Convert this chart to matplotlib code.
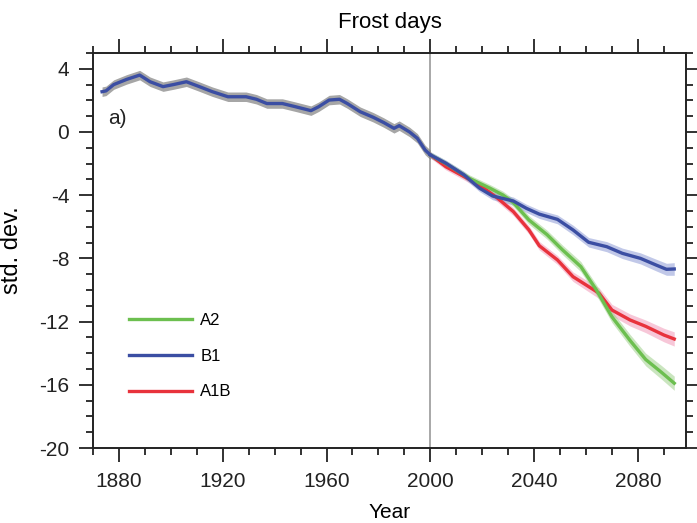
import numpy as np
import matplotlib.pyplot as plt
from matplotlib.ticker import MultipleLocator

plt.rcParams['font.family'] = ['Liberation Sans', 'DejaVu Sans']
plt.rcParams['axes.unicode_minus'] = False

# historical ensemble mean
hist_years = [1873.5, 1875, 1878, 1883, 1888, 1892, 1897, 1901, 1906, 1911, 1916,
              1922, 1929, 1933, 1937, 1943, 1948, 1954, 1957, 1961, 1965, 1968,
              1973, 1978, 1982, 1986, 1988, 1992, 1995, 1998, 2000]
hist_vals = [2.55, 2.6, 3.0, 3.33, 3.6, 3.18, 2.87, 3.0, 3.18, 2.87, 2.55,
             2.23, 2.23, 2.07, 1.8, 1.8, 1.6, 1.35, 1.6, 2.02, 2.07, 1.8,
             1.28, 0.93, 0.6, 0.23, 0.4, 0.0, -0.4, -1.14, -1.45]
hist_spread = [0.3] * len(hist_years)

# scenarios
b1_years = [2000, 2006, 2013, 2019, 2024, 2032, 2037, 2042, 2049, 2055, 2061,
            2068, 2074, 2081, 2087, 2091, 2094]
b1_vals = [-1.45, -1.98, -2.72, -3.56, -4.05, -4.37, -4.83, -5.2, -5.53, -6.2, -6.98,
           -7.26, -7.68, -8.0, -8.42, -8.69, -8.67]
b1_spread = [0.2, 0.2, 0.22, 0.22, 0.24, 0.25, 0.26, 0.27, 0.28, 0.3, 0.3,
             0.32, 0.33, 0.35, 0.37, 0.38, 0.4]

a1b_years = [2000, 2006, 2015, 2021, 2026, 2032, 2038, 2042, 2049, 2055, 2060,
             2065, 2070, 2077, 2083, 2090, 2094]
a1b_vals = [-1.45, -2.2, -3.0, -3.6, -4.2, -5.04, -6.2, -7.2, -8.1, -9.16, -9.68,
            -10.2, -11.27, -11.9, -12.3, -12.85, -13.1]
a1b_spread = [0.2, 0.2, 0.22, 0.22, 0.24, 0.25, 0.26, 0.27, 0.28, 0.3, 0.32,
              0.34, 0.36, 0.38, 0.4, 0.43, 0.45]

a2_years = [2000, 2006, 2015, 2023, 2028, 2032, 2038, 2045, 2051, 2058, 2064,
            2070, 2077, 2083, 2089, 2094]
a2_vals = [-1.45, -2.0, -2.93, -3.56, -3.99, -4.47, -5.57, -6.5, -7.47, -8.52, -10.0,
           -11.7, -13.2, -14.4, -15.2, -15.9]
a2_spread = [0.2, 0.2, 0.22, 0.23, 0.24, 0.25, 0.27, 0.28, 0.3, 0.32, 0.34,
             0.36, 0.38, 0.4, 0.43, 0.45]

green = '#6cbf4f'
blue = '#3b4ea3'
red = '#e8323c'

fig = plt.figure(figsize=(6.97, 5.23), dpi=100)
ax = fig.add_axes([0.1334, 0.1434, 0.8507, 0.7553])

ax.axvline(2000, color='#999999', lw=1.2, zorder=1)

def band(x, y, s, c, a=0.55):
    y = np.array(y)
    s = np.array(s)
    ax.fill_between(x, y - s, y + s, color=c, lw=0, alpha=a, zorder=2)

band(hist_years, hist_vals, hist_spread, '#808080', 0.7)
band(a1b_years, a1b_vals, a1b_spread, '#f29ab8')
band(a2_years, a2_vals, a2_spread, '#9fd08c')
band(b1_years, b1_vals, b1_spread, '#8e9cd6')

ax.plot(a1b_years, a1b_vals, color=red, lw=2.4, zorder=3, label='A1B')
ax.plot(a2_years, a2_vals, color=green, lw=2.4, zorder=4, label='A2')
ax.plot(b1_years, b1_vals, color=blue, lw=2.4, zorder=5, label='B1')
ax.plot(hist_years, hist_vals, color=blue, lw=2.4, zorder=5)

ax.set_xlim(1870, 2098.5)
ax.set_ylim(-20, 5)
ax.xaxis.set_major_locator(MultipleLocator(40))
ax.xaxis.set_minor_locator(MultipleLocator(10))
ax.yaxis.set_major_locator(MultipleLocator(4))
ax.yaxis.set_minor_locator(MultipleLocator(1))
ax.tick_params(which='both', direction='out', top=True, right=True, width=1.3,
               labelsize=15, colors='#222222', pad=7)
ax.tick_params(which='major', length=10)
ax.tick_params(which='minor', length=5)
for sp in ax.spines.values():
    sp.set_linewidth(1.4)
    sp.set_color('#222222')

ax.set_title('Frost days', fontsize=16, pad=18)
ax.set_xlabel('Year', fontsize=15, labelpad=9)
ax.set_ylabel('std. dev.', fontsize=17, labelpad=12)

ax.text(1876, 0.5, 'a)', fontsize=15, color='#222222')

handles, labels = ax.get_legend_handles_labels()
order = [1, 2, 0]
ax.legend([handles[i] for i in order], [labels[i] for i in order],
          loc='lower left', bbox_to_anchor=(0.035, 0.085), frameon=False,
          fontsize=12, handlelength=3.8, labelspacing=1.25, handletextpad=0.5)

fig.savefig('out.png', dpi=100)
